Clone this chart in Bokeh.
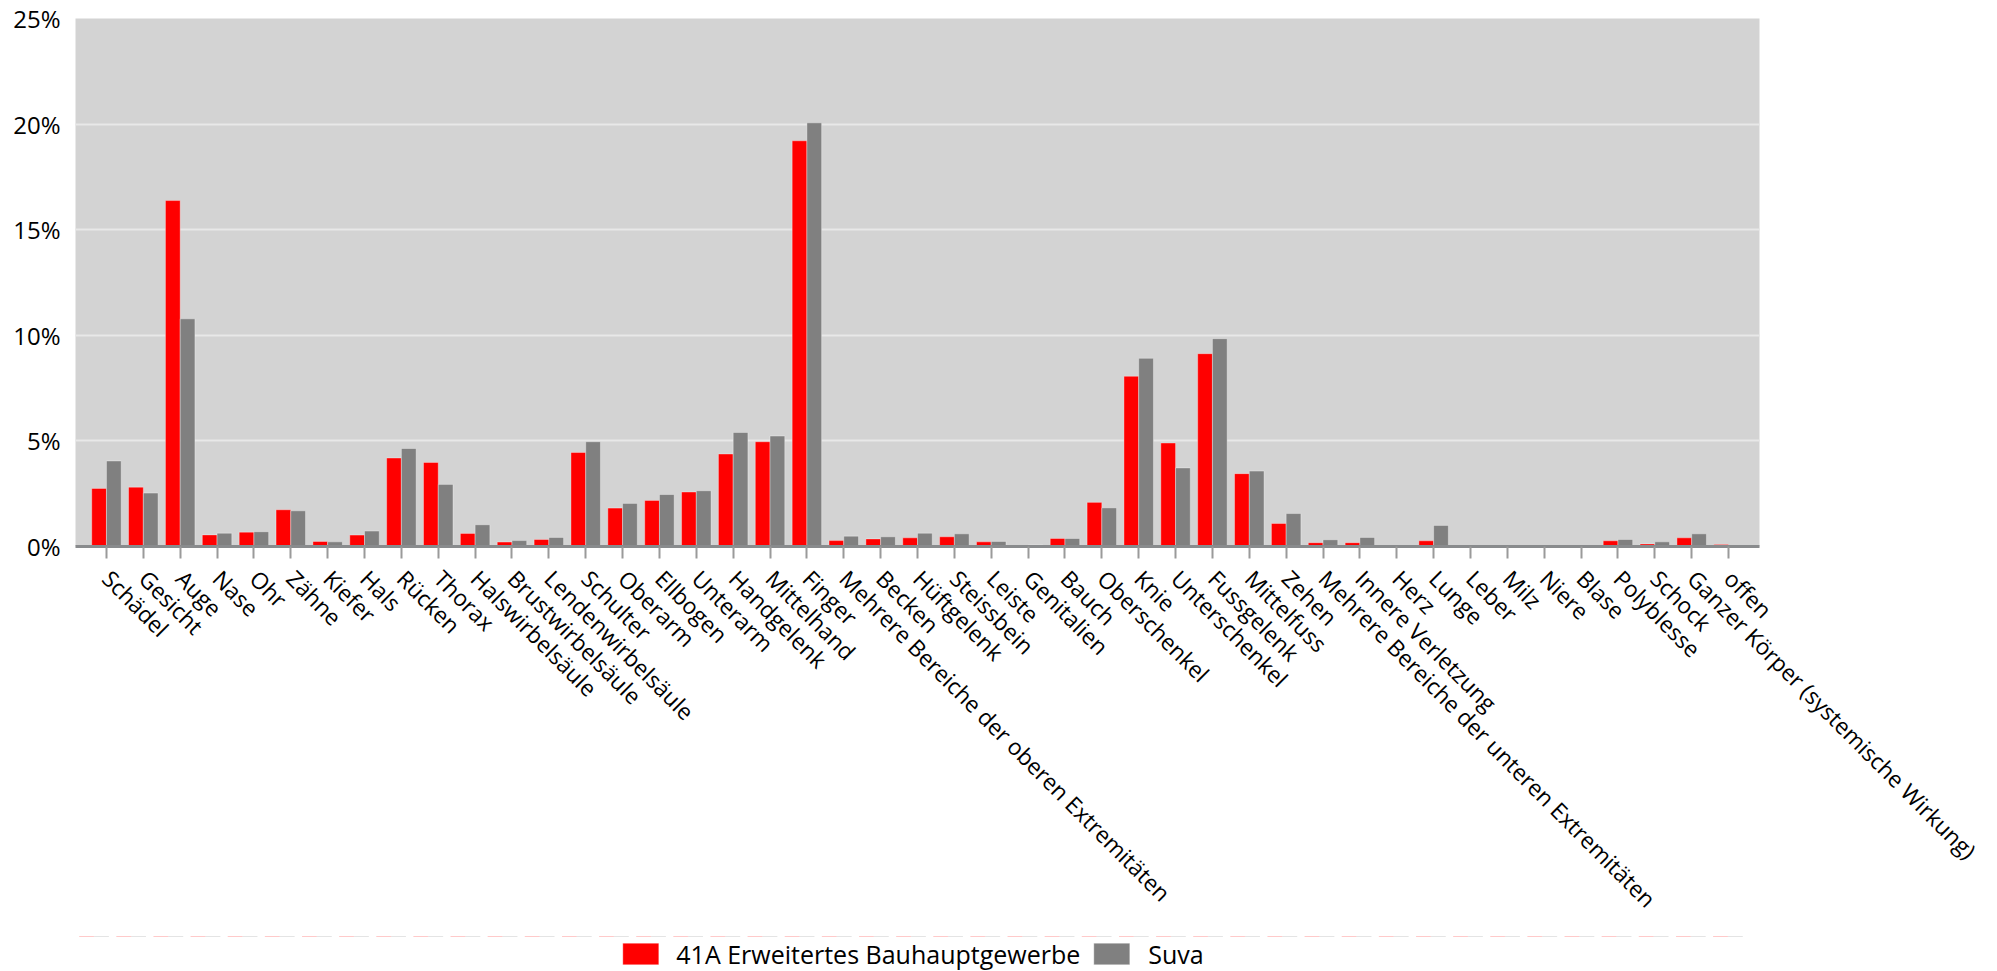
import math
from bokeh.plotting import figure
from bokeh.layouts import column
from bokeh.models import (ColumnDataSource, FactorRange, Legend, LegendItem,
                          FixedTicker, PrintfTickFormatter, Range1d)
from bokeh.transform import dodge
from bokeh.embed import file_html
from bokeh.resources import INLINE

categories = [
    "Schädel", "Gesicht", "Auge", "Nase", "Ohr", "Zähne", "Kiefer", "Hals",
    "Rücken", "Thorax", "Halswirbelsäule", "Brustwirbelsäule",
    "Lendenwirbelsäule", "Schulter", "Oberarm", "Ellbogen", "Unterarm",
    "Handgelenk", "Mittelhand", "Finger",
    "Mehrere Bereiche der oberen Extremitäten", "Becken", "Hüftgelenk",
    "Steissbein", "Leiste", "Genitalien", "Bauch", "Oberschenkel", "Knie",
    "Unterschenkel", "Fussgelenk", "Mittelfuss", "Zehen",
    "Mehrere Bereiche der unteren Extremitäten", "Innere Verletzung", "Herz",
    "Lunge", "Leber", "Milz", "Niere", "Blase", "Polyblesse", "Schock",
    "Ganzer Körper (systemische Wirkung)", "offen",
]

bau_41a = [
    2.75, 2.81, 16.38, 0.55, 0.68, 1.74, 0.24, 0.54,
    4.19, 3.98, 0.62, 0.21,
    0.33, 4.45, 1.82, 2.18, 2.58,
    4.38, 4.96, 19.21,
    0.28, 0.36, 0.41,
    0.46, 0.22, 0.05, 0.38, 2.09, 8.06,
    4.90, 9.13, 3.45, 1.09,
    0.18, 0.18, 0.02,
    0.27, 0.02, 0.01, 0.02, 0.01, 0.27, 0.12,
    0.41, 0.10,
]

suva = [
    4.05, 2.53, 10.78, 0.63, 0.70, 1.69, 0.22, 0.73,
    4.64, 2.94, 1.03, 0.28,
    0.43, 4.96, 2.04, 2.46, 2.64,
    5.40, 5.23, 20.06,
    0.49, 0.46, 0.63,
    0.60, 0.24, 0.07, 0.38, 1.83, 8.91,
    3.72, 9.84, 3.57, 1.56,
    0.32, 0.43, 0.03,
    1.00, 0.04, 0.03, 0.04, 0.04, 0.33, 0.22,
    0.60, 0.03,
]

y_ticks = [0, 5, 10, 15, 20, 25]
series_names = ["41A Erweitertes Bauhauptgewerbe", "Suva"]
series_colors = ["#ff0000", "#808080"]

FONT = "Open Sans"

src = ColumnDataSource(dict(cat=categories, a=bau_41a, s=suva))

p = figure(
    x_range=FactorRange(factors=categories, range_padding=0.0151),
    y_range=(0, 25),
    width=1990, height=936,
    min_border_left=75, min_border_right=231,
    min_border_top=18, min_border_bottom=390,
    output_backend="svg", toolbar_location=None,
    background_fill_color="#d3d3d3", border_fill_color="white",
    outline_line_color=None,
)

r1 = p.vbar(x=dodge("cat", -0.2, range=p.x_range), top="a", width=0.4,
            source=src, fill_color=series_colors[0],
            line_color="white", line_alpha=0.35, line_width=1)
r2 = p.vbar(x=dodge("cat", 0.2, range=p.x_range), top="s", width=0.4,
            source=src, fill_color=series_colors[1],
            line_color="white", line_alpha=0.35, line_width=1)

xa = p.xaxis[0]
xa.axis_line_color = "#898b8d"
xa.axis_line_width = 3
xa.major_tick_line_color = "#9a9a9a"
xa.major_tick_line_width = 2
xa.major_tick_out = 12
xa.major_tick_in = 0
xa.major_label_orientation = -math.pi / 4
xa.major_label_text_font = FONT
xa.major_label_text_font_size = "22.7px"
xa.major_label_text_color = "black"
xa.major_label_standoff = 16

ya = p.yaxis[0]
ya.ticker = FixedTicker(ticks=y_ticks)
ya.formatter = PrintfTickFormatter(format="%d%%")
ya.axis_line_color = None
ya.major_tick_line_color = None
ya.minor_tick_line_color = None
ya.major_tick_out = 0
ya.major_tick_in = 0
ya.major_label_standoff = 15
ya.major_label_text_font = FONT
ya.major_label_text_font_size = "24px"
ya.major_label_text_color = "black"

p.xgrid.grid_line_color = None
p.ygrid.grid_line_color = "#e8e8e8"
p.ygrid.grid_line_width = 2

# Legend strip below the chart: a small figure whose bar renderers use the
# same data but lie far outside its visible y range, so only the legend shows.
lg = figure(
    width=1977, height=35,
    x_range=FactorRange(factors=categories),
    y_range=Range1d(-200, -199),
    x_axis_location=None, y_axis_location=None,
    min_border=0, output_backend="svg", toolbar_location=None,
    background_fill_color="white", border_fill_color="white",
    outline_line_color=None,
)
lg.grid.visible = False
lr1 = lg.vbar(x=dodge("cat", -0.2, range=lg.x_range), top="a", width=0.4,
              source=src, fill_color=series_colors[0],
              line_color="white", line_alpha=0.35)
lr2 = lg.vbar(x=dodge("cat", 0.2, range=lg.x_range), top="s", width=0.4,
              source=src, fill_color=series_colors[1],
              line_color="white", line_alpha=0.35)

legend = Legend(
    items=[LegendItem(label=series_names[0], renderers=[lr1]),
           LegendItem(label=series_names[1], renderers=[lr2])],
    orientation="horizontal", location="center",
    glyph_width=45, glyph_height=27, label_height=27,
    label_standoff=14, spacing=9, padding=0, margin=0,
    border_line_color=None, background_fill_alpha=0,
    label_text_font=FONT, label_text_font_size="25px",
    label_text_color="black",
)
lg.add_layout(legend)

layout = column(p, lg, spacing=0)

open("out.html", "w").write(file_html(layout, INLINE))
